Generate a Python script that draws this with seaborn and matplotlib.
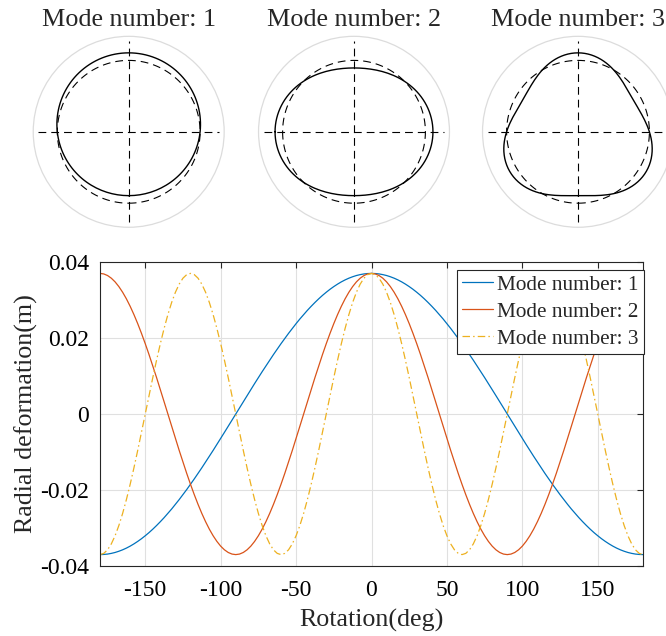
import numpy as np
import pandas as pd
import matplotlib
matplotlib.use("Agg")
import matplotlib.pyplot as plt
from matplotlib.patches import Circle
import seaborn as sns

# ---------------- data ----------------
ROT_DEG = [k * 2.5 for k in range(-72, 73)]   # -180 ... 180 deg

MODE1 = [
    -0.03700, -0.03696, -0.03686, -0.03668, -0.03644, -0.03612, -0.03574, -0.03529, -0.03477,
    -0.03418, -0.03353, -0.03282, -0.03204, -0.03121, -0.03031, -0.02935, -0.02834, -0.02728,
    -0.02616, -0.02500, -0.02378, -0.02252, -0.02122, -0.01988, -0.01850, -0.01708, -0.01564,
    -0.01416, -0.01265, -0.01113, -0.00958, -0.00801, -0.00643, -0.00483, -0.00322, -0.00161,
    0.00000,
    0.00161, 0.00322, 0.00483, 0.00643, 0.00801, 0.00958, 0.01113, 0.01265, 0.01416,
    0.01564, 0.01708, 0.01850, 0.01988, 0.02122, 0.02252, 0.02378, 0.02500, 0.02616,
    0.02728, 0.02834, 0.02935, 0.03031, 0.03121, 0.03204, 0.03282, 0.03353, 0.03418,
    0.03477, 0.03529, 0.03574, 0.03612, 0.03644, 0.03668, 0.03686, 0.03696, 0.03700,
    0.03696, 0.03686, 0.03668, 0.03644, 0.03612, 0.03574, 0.03529, 0.03477, 0.03418,
    0.03353, 0.03282, 0.03204, 0.03121, 0.03031, 0.02935, 0.02834, 0.02728, 0.02616,
    0.02500, 0.02378, 0.02252, 0.02122, 0.01988, 0.01850, 0.01708, 0.01564, 0.01416,
    0.01265, 0.01113, 0.00958, 0.00801, 0.00643, 0.00483, 0.00322, 0.00161, 0.00000,
    -0.00161, -0.00322, -0.00483, -0.00643, -0.00801, -0.00958, -0.01113, -0.01265, -0.01416,
    -0.01564, -0.01708, -0.01850, -0.01988, -0.02122, -0.02252, -0.02378, -0.02500, -0.02616,
    -0.02728, -0.02834, -0.02935, -0.03031, -0.03121, -0.03204, -0.03282, -0.03353, -0.03418,
    -0.03477, -0.03529, -0.03574, -0.03612, -0.03644, -0.03668, -0.03686, -0.03696, -0.03700,
]

MODE2 = [
    0.03700, 0.03686, 0.03644, 0.03574, 0.03477, 0.03353, 0.03204, 0.03031, 0.02834, 0.02616,
    0.02378, 0.02122, 0.01850, 0.01564, 0.01265, 0.00958, 0.00643, 0.00322, 0.00000,
    -0.00322, -0.00643, -0.00958, -0.01265, -0.01564, -0.01850, -0.02122, -0.02378, -0.02616,
    -0.02834, -0.03031, -0.03204, -0.03353, -0.03477, -0.03574, -0.03644, -0.03686, -0.03700,
    -0.03686, -0.03644, -0.03574, -0.03477, -0.03353, -0.03204, -0.03031, -0.02834, -0.02616,
    -0.02378, -0.02122, -0.01850, -0.01564, -0.01265, -0.00958, -0.00643, -0.00322, 0.00000,
    0.00322, 0.00643, 0.00958, 0.01265, 0.01564, 0.01850, 0.02122, 0.02378, 0.02616,
    0.02834, 0.03031, 0.03204, 0.03353, 0.03477, 0.03574, 0.03644, 0.03686, 0.03700,
    0.03686, 0.03644, 0.03574, 0.03477, 0.03353, 0.03204, 0.03031, 0.02834, 0.02616,
    0.02378, 0.02122, 0.01850, 0.01564, 0.01265, 0.00958, 0.00643, 0.00322, 0.00000,
    -0.00322, -0.00643, -0.00958, -0.01265, -0.01564, -0.01850, -0.02122, -0.02378, -0.02616,
    -0.02834, -0.03031, -0.03204, -0.03353, -0.03477, -0.03574, -0.03644, -0.03686, -0.03700,
    -0.03686, -0.03644, -0.03574, -0.03477, -0.03353, -0.03204, -0.03031, -0.02834, -0.02616,
    -0.02378, -0.02122, -0.01850, -0.01564, -0.01265, -0.00958, -0.00643, -0.00322, 0.00000,
    0.00322, 0.00643, 0.00958, 0.01265, 0.01564, 0.01850, 0.02122, 0.02378, 0.02616,
    0.02834, 0.03031, 0.03204, 0.03353, 0.03477, 0.03574, 0.03644, 0.03686, 0.03700,
]

MODE3 = [
    -0.03700, -0.03668, -0.03574, -0.03418, -0.03204, -0.02935, -0.02616, -0.02252, -0.01850,
    -0.01416, -0.00958, -0.00483, 0.00000,
    0.00483, 0.00958, 0.01416, 0.01850, 0.02252, 0.02616, 0.02935, 0.03204, 0.03418, 0.03574,
    0.03668, 0.03700,
    0.03668, 0.03574, 0.03418, 0.03204, 0.02935, 0.02616, 0.02252, 0.01850, 0.01416, 0.00958,
    0.00483, 0.00000,
    -0.00483, -0.00958, -0.01416, -0.01850, -0.02252, -0.02616, -0.02935, -0.03204, -0.03418,
    -0.03574, -0.03668, -0.03700,
    -0.03668, -0.03574, -0.03418, -0.03204, -0.02935, -0.02616, -0.02252, -0.01850, -0.01416,
    -0.00958, -0.00483, 0.00000,
    0.00483, 0.00958, 0.01416, 0.01850, 0.02252, 0.02616, 0.02935, 0.03204, 0.03418, 0.03574,
    0.03668, 0.03700,
    0.03668, 0.03574, 0.03418, 0.03204, 0.02935, 0.02616, 0.02252, 0.01850, 0.01416, 0.00958,
    0.00483, 0.00000,
    -0.00483, -0.00958, -0.01416, -0.01850, -0.02252, -0.02616, -0.02935, -0.03204, -0.03418,
    -0.03574, -0.03668, -0.03700,
    -0.03668, -0.03574, -0.03418, -0.03204, -0.02935, -0.02616, -0.02252, -0.01850, -0.01416,
    -0.00958, -0.00483, 0.00000,
    0.00483, 0.00958, 0.01416, 0.01850, 0.02252, 0.02616, 0.02935, 0.03204, 0.03418, 0.03574,
    0.03668, 0.03700,
    0.03668, 0.03574, 0.03418, 0.03204, 0.02935, 0.02616, 0.02252, 0.01850, 0.01416, 0.00958,
    0.00483, 0.00000,
    -0.00483, -0.00958, -0.01416, -0.01850, -0.02252, -0.02616, -0.02935, -0.03204, -0.03418,
    -0.03574, -0.03668, -0.03700,
]

assert len(MODE1) == len(ROT_DEG) == len(MODE2) == len(MODE3), (len(MODE1), len(MODE2), len(MODE3))

MODE_NAMES = ["Mode number: 1", "Mode number: 2", "Mode number: 3"]
RING_RADIUS = 0.35              # undeformed ring radius (m)
ANGLE_OFFSET_DEG = [90, 0, 90]  # orientation of each mode shape in the top panels

X_TICKS = [-150, -100, -50, 0, 50, 100, 150]
X_TICK_LABELS = ["-150", "-100", "-50", "0", "50", "100", "150"]
Y_TICKS = [-0.04, -0.02, 0.0, 0.02, 0.04]
Y_TICK_LABELS = ["-0.04", "-0.02", "0", "0.02", "0.04"]

# ---------------- style ----------------
sns.set_style("white")
plt.rcParams["font.family"] = ["Liberation Serif", "DejaVu Serif"]
plt.rcParams["axes.unicode_minus"] = False

W, H = 666, 636
fig = plt.figure(figsize=(W / 100, H / 100), dpi=100)


def px_axes(left, top, width, height):
    return fig.add_axes([left / W, (H - top - height) / H, width / W, height / H])


AX_COL = "#262626"
COLORS = ["#0072BD", "#D95319", "#EDB120"]

# ---------------- top mode-shape panels ----------------
centers = [128.7, 354.0, 578.0]
half = 102.0      # px for 0.5 data units
for i, (series, name) in enumerate(zip([MODE1, MODE2, MODE3], MODE_NAMES)):
    cx, cy = centers[i], 131.8
    ax = px_axes(cx - half, cy - half, 2 * half, 2 * half)
    ax.set_xlim(-0.5, 0.5)
    ax.set_ylim(-0.5, 0.5)
    ax.set_aspect("equal")
    ax.axis("off")
    ax.add_patch(Circle((0, 0), 0.468, fill=False, ec="#dcdcdc", lw=0.9))
    ax.plot([-0.443, 0.443], [0, 0], color="k", lw=0.8, dashes=(7, 4.5))
    ax.plot([0, 0], [-0.443, 0.443], color="k", lw=0.8, dashes=(7, 4.5))
    th = np.deg2rad(np.array(ROT_DEG) + ANGLE_OFFSET_DEG[i])
    ax.plot(RING_RADIUS * np.cos(th), RING_RADIUS * np.sin(th), color="k", lw=0.8,
            dashes=(7, 4.5))
    r = RING_RADIUS + np.array(series)
    sns.lineplot(x=r * np.cos(th), y=r * np.sin(th), sort=False, estimator=None,
                 color="k", lw=1.0, ax=ax)
    fig.text(cx / W, (H - 26) / H, name, ha="center", va="baseline", fontsize=18.8)

# ---------------- bottom line chart ----------------
n = len(ROT_DEG)
df = pd.DataFrame({
    "rot": ROT_DEG * 3,
    "val": MODE1 + MODE2 + MODE3,
    "mode": [MODE_NAMES[0]] * n + [MODE_NAMES[1]] * n + [MODE_NAMES[2]] * n,
})

ax = px_axes(100, 262, 543, 304)
sns.lineplot(data=df, x="rot", y="val", hue="mode", style="mode",
             palette=dict(zip(MODE_NAMES, COLORS)),
             dashes={MODE_NAMES[0]: "", MODE_NAMES[1]: "", MODE_NAMES[2]: (6, 2.5, 1.2, 2.5)},
             lw=0.9, ax=ax)
ax.set_xlim(-180, 180)
ax.set_ylim(-0.04, 0.04)
ax.set_xticks(X_TICKS)
ax.set_xticklabels(X_TICK_LABELS)
ax.set_yticks(Y_TICKS)
ax.set_yticklabels(Y_TICK_LABELS)
ax.grid(True, color="#e0e0e0", lw=0.8)
ax.set_axisbelow(True)
for s in ax.spines.values():
    s.set_visible(True)
    s.set_color(AX_COL)
    s.set_linewidth(0.8)
ax.tick_params(direction="in", length=4, width=0.8, colors=AX_COL, labelcolor="k",
               labelsize=17, top=True, right=True)
ax.tick_params(axis="x", pad=10)
ax.tick_params(axis="y", pad=8)
ax.set_xlabel("Rotation(deg)", fontsize=18.7, labelpad=6)
ax.set_ylabel("Radial deformation(m)", fontsize=18.7, labelpad=1)

handles, labels = ax.get_legend_handles_labels()
pairs = [(h, l) for h, l in zip(handles, labels) if l in MODE_NAMES]
leg = ax.legend([p[0] for p in pairs], [p[1] for p in pairs], loc="upper right",
                bbox_to_anchor=(1.002, 0.975), borderaxespad=0, fontsize=15.3,
                frameon=True, fancybox=False, framealpha=1, edgecolor=AX_COL,
                handlelength=1.45, handletextpad=0.2, labelspacing=0.33, borderpad=0.25)
leg.get_frame().set_linewidth(0.8)

fig.savefig("out.png", dpi=100)
